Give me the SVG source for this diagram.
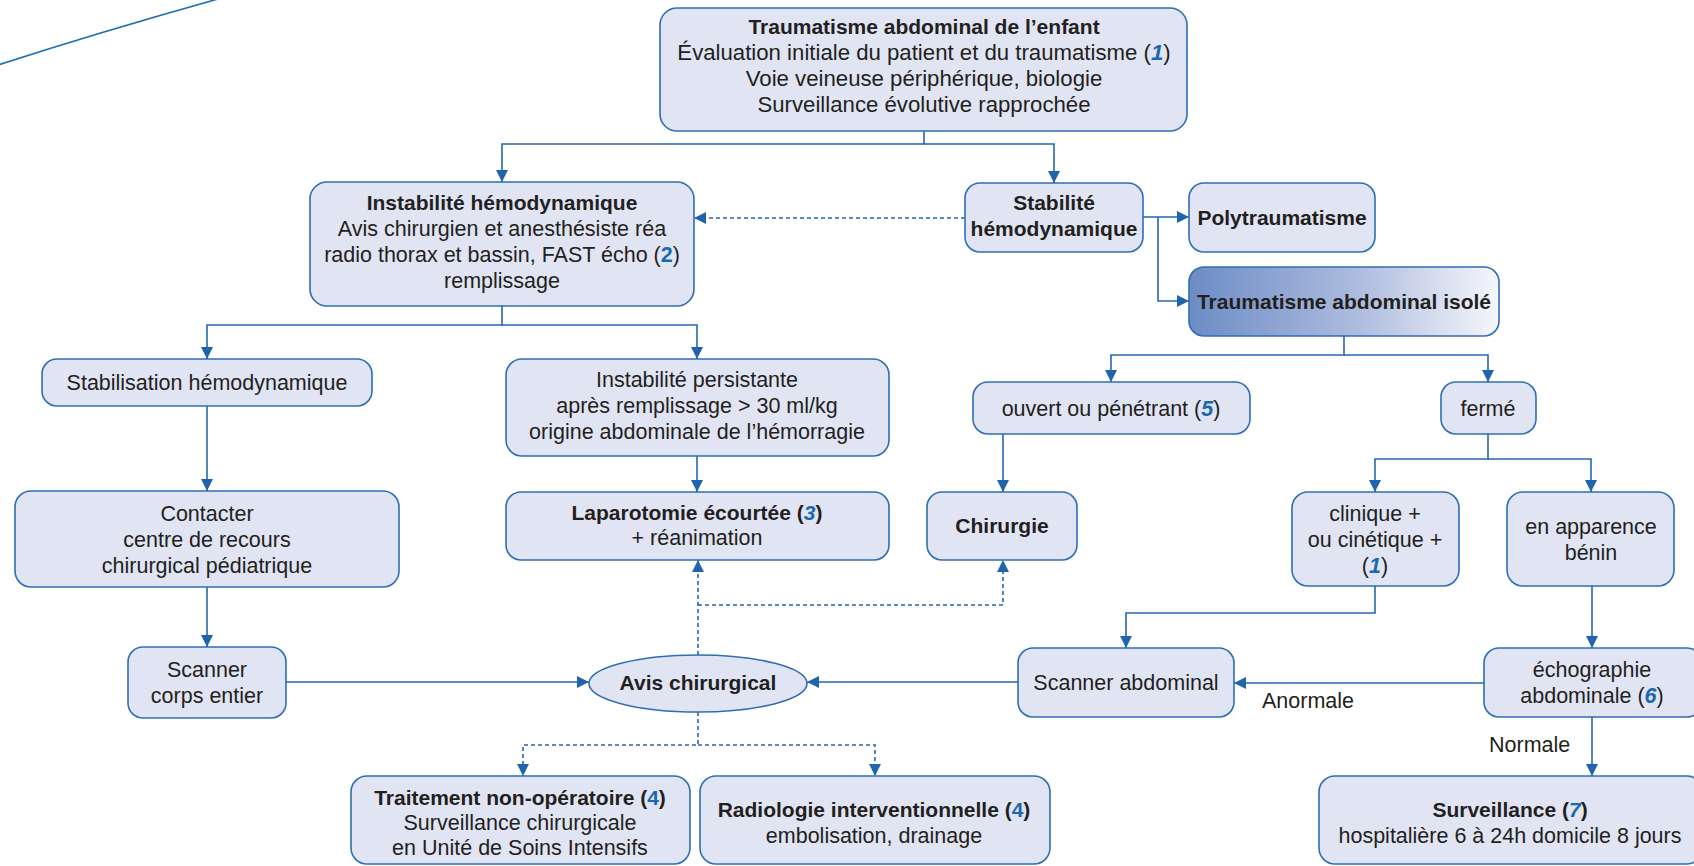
<svg xmlns="http://www.w3.org/2000/svg" width="1694" height="866" viewBox="0 0 1694 866">
<style>
.box{fill:#E0E4F3;stroke:#2D6EB5;stroke-width:1.6}
.t{font-family:"Liberation Sans",Arial,sans-serif;font-size:21.5px;fill:#231F20;text-anchor:middle}
.s{text-anchor:start}
.b{font-weight:bold;font-size:21px}
.lg{font-size:22.2px}
.n{fill:#1A68B0;font-weight:bold;font-style:italic}
.nu{fill:#1A68B0;font-weight:bold}
.c{stroke:#2567AE;stroke-width:1.6;fill:none}
.d{stroke-dasharray:4 3}
</style>
<defs>
<marker id="a" viewBox="0 0 10 10" refX="10" refY="5" markerWidth="12" markerHeight="12" markerUnits="userSpaceOnUse" orient="auto">
<path d="M0,0 L10,5 L0,10 z" fill="#1F64AD"/>
</marker>
<linearGradient id="g" x1="0" y1="0" x2="1" y2="0">
<stop offset="0" stop-color="#6C8CC5"/>
<stop offset="0.55" stop-color="#AEBCDF"/>
<stop offset="1" stop-color="#F6F7FB"/>
</linearGradient>
</defs>
<rect width="1694" height="866" fill="#FFFFFF"/>
<path d="M-2,65 Q100,32 218,-1" fill="none" stroke="#1E6DB6" stroke-width="1.6"/>

<g id="connectors">
<path class="c" d="M924,131 V144 H502 V182" marker-end="url(#a)"/>
<path class="c" d="M924,144 H1054 V183" marker-end="url(#a)"/>
<path class="c d" d="M965,218 H694" marker-end="url(#a)"/>
<path class="c" d="M1143,217 H1189" marker-end="url(#a)"/>
<path class="c" d="M1158,217 V301 H1189" marker-end="url(#a)"/>
<path class="c" d="M502,306 V325 H207 V359" marker-end="url(#a)"/>
<path class="c" d="M502,325 H697 V359" marker-end="url(#a)"/>
<path class="c" d="M207,406 V491" marker-end="url(#a)"/>
<path class="c" d="M207,587 V647" marker-end="url(#a)"/>
<path class="c" d="M697,456 V492" marker-end="url(#a)"/>
<path class="c" d="M286,682 H589" marker-end="url(#a)"/>
<path class="c" d="M1018,682 H807" marker-end="url(#a)"/>
<path class="c d" d="M698,655 V560" marker-end="url(#a)"/>
<path class="c d" d="M698,605 H1003 V560" marker-end="url(#a)"/>
<path class="c d" d="M698,712 V745 H523 V776" marker-end="url(#a)"/>
<path class="c d" d="M698,745 H875 V776" marker-end="url(#a)"/>
<path class="c" d="M1344,336 V355 H1111 V382" marker-end="url(#a)"/>
<path class="c" d="M1344,355 H1488 V382" marker-end="url(#a)"/>
<path class="c" d="M1003,434 V492" marker-end="url(#a)"/>
<path class="c" d="M1488,434 V459 H1375 V492" marker-end="url(#a)"/>
<path class="c" d="M1488,459 H1591 V492" marker-end="url(#a)"/>
<path class="c" d="M1375,586 V613 H1126 V648" marker-end="url(#a)"/>
<path class="c" d="M1592,586 V648" marker-end="url(#a)"/>
<path class="c" d="M1484,683 H1234" marker-end="url(#a)"/>
<path class="c" d="M1592,717 V776" marker-end="url(#a)"/>
<text class="t s" x="1262" y="708">Anormale</text>
<text class="t s" x="1489" y="752">Normale</text>
</g>

<g id="n-top">
<rect class="box" x="660" y="8" width="527" height="123" rx="17"/>
<text class="t b" x="924" y="34">Traumatisme abdominal de l’enfant</text>
<text class="t lg" x="924" y="60">Évaluation initiale du patient et du traumatisme (<tspan class="n">1</tspan>)</text>
<text class="t lg" x="924" y="86">Voie veineuse périphérique, biologie</text>
<text class="t lg" x="924" y="112">Surveillance évolutive rapprochée</text>
</g>

<g id="n-instab">
<rect class="box" x="310" y="182" width="384" height="124" rx="17"/>
<text class="t b" x="502" y="210">Instabilité hémodynamique</text>
<text class="t" x="502" y="236">Avis chirurgien et anesthésiste réa</text>
<text class="t" x="502" y="262">radio thorax et bassin, FAST écho (<tspan class="nu">2</tspan>)</text>
<text class="t" x="502" y="288">remplissage</text>
</g>

<g id="n-stab">
<rect class="box" x="965" y="183" width="178" height="69" rx="15"/>
<text class="t b" x="1054" y="210">Stabilité</text>
<text class="t b" x="1054" y="236">hémodynamique</text>
</g>

<g id="n-poly">
<rect class="box" x="1189" y="183" width="186" height="69" rx="15"/>
<text class="t b" x="1282" y="225">Polytraumatisme</text>
</g>

<g id="n-isole">
<rect x="1189" y="267" width="310" height="69" rx="15" fill="url(#g)" stroke="#2D6EB5" stroke-width="1.6"/>
<text class="t b" x="1344" y="309">Traumatisme abdominal isolé</text>
</g>

<g id="n-stabilisation">
<rect class="box" x="42" y="359" width="330" height="47" rx="15"/>
<text class="t" x="207" y="390">Stabilisation hémodynamique</text>
</g>

<g id="n-persist">
<rect class="box" x="506" y="359" width="383" height="97" rx="16"/>
<text class="t" x="697" y="387">Instabilité persistante</text>
<text class="t" x="697" y="413">après remplissage &gt; 30 ml/kg</text>
<text class="t" x="697" y="439">origine abdominale de l’hémorragie</text>
</g>

<g id="n-ouvert">
<rect class="box" x="973" y="382" width="277" height="52" rx="15"/>
<text class="t" x="1111" y="416">ouvert ou pénétrant (<tspan class="n">5</tspan>)</text>
</g>

<g id="n-ferme">
<rect class="box" x="1441" y="382" width="95" height="52" rx="15"/>
<text class="t" x="1488" y="416">fermé</text>
</g>

<g id="n-contacter">
<rect class="box" x="15" y="491" width="384" height="96" rx="16"/>
<text class="t" x="207" y="521">Contacter</text>
<text class="t" x="207" y="547">centre de recours</text>
<text class="t" x="207" y="573">chirurgical pédiatrique</text>
</g>

<g id="n-laparo">
<rect class="box" x="506" y="492" width="383" height="68" rx="15"/>
<text class="t b" x="697" y="520">Laparotomie écourtée (<tspan class="n">3</tspan>)</text>
<text class="t" x="697" y="545">+ réanimation</text>
</g>

<g id="n-chirurgie">
<rect class="box" x="927" y="492" width="150" height="68" rx="15"/>
<text class="t b" x="1002" y="533">Chirurgie</text>
</g>

<g id="n-clinique">
<rect class="box" x="1292" y="492" width="167" height="94" rx="16"/>
<text class="t" x="1375" y="521">clinique +</text>
<text class="t" x="1375" y="547">ou cinétique +</text>
<text class="t" x="1375" y="573">(<tspan class="n">1</tspan>)</text>
</g>

<g id="n-benin">
<rect class="box" x="1507" y="492" width="167" height="94" rx="16"/>
<text class="t" x="1591" y="534">en apparence</text>
<text class="t" x="1591" y="560">bénin</text>
</g>

<g id="n-scanner-corps">
<rect class="box" x="128" y="647" width="158" height="71" rx="15"/>
<text class="t" x="207" y="677">Scanner</text>
<text class="t" x="207" y="703">corps entier</text>
</g>

<g id="n-avis">
<ellipse cx="698" cy="683.5" rx="109" ry="28.5" fill="#E0E4F3" stroke="#2D6EB5" stroke-width="1.6"/>
<text class="t b" x="698" y="690">Avis chirurgical</text>
</g>

<g id="n-scanner-abdo">
<rect class="box" x="1018" y="648" width="216" height="69" rx="15"/>
<text class="t" x="1126" y="690">Scanner abdominal</text>
</g>

<g id="n-echo">
<rect class="box" x="1484" y="648" width="218" height="69" rx="15"/>
<text class="t" x="1592" y="677">échographie</text>
<text class="t" x="1592" y="703">abdominale (<tspan class="n">6</tspan>)</text>
</g>

<g id="n-traitement">
<rect class="box" x="351" y="776" width="339" height="88" rx="16"/>
<text class="t b" x="520" y="805">Traitement non-opératoire (<tspan class="nu">4</tspan>)</text>
<text class="t" x="520" y="830">Surveillance chirurgicale</text>
<text class="t" x="520" y="855">en Unité de Soins Intensifs</text>
</g>

<g id="n-radio">
<rect class="box" x="700" y="776" width="350" height="88" rx="16"/>
<text class="t b" x="874" y="817">Radiologie interventionnelle (<tspan class="nu">4</tspan>)</text>
<text class="t" x="874" y="843">embolisation, drainage</text>
</g>

<g id="n-surveillance">
<rect class="box" x="1319" y="776" width="384" height="88" rx="16"/>
<text class="t b" x="1510" y="817">Surveillance (<tspan class="n">7</tspan>)</text>
<text class="t" x="1510" y="843">hospitalière 6 à 24h domicile 8 jours</text>
</g>
</svg>
